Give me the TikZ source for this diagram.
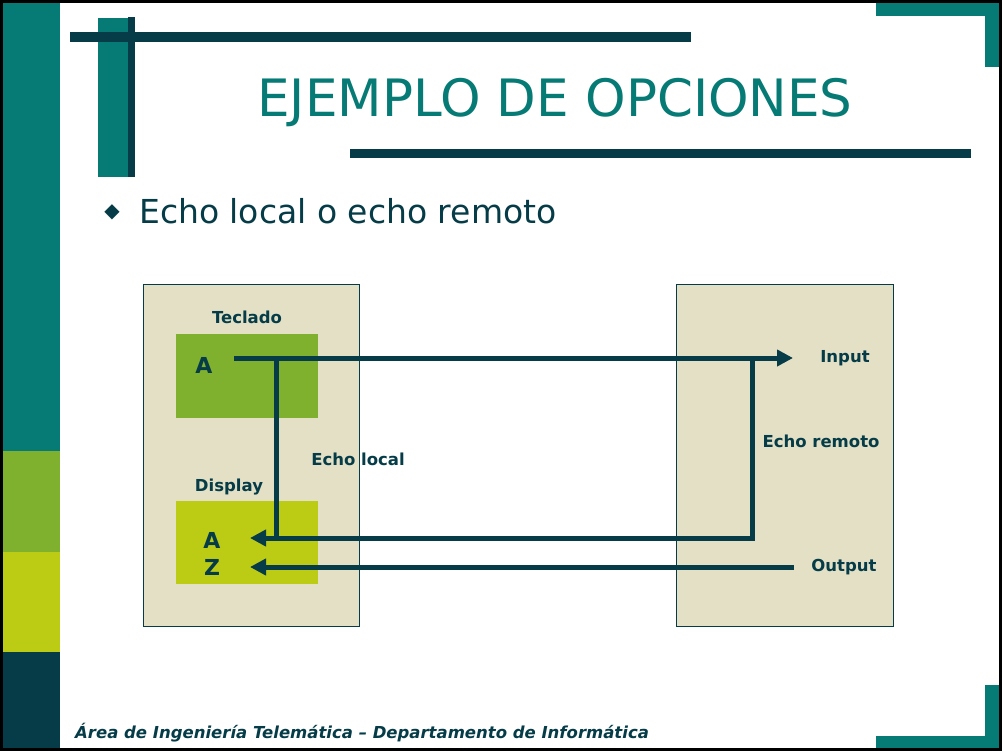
\documentclass[tikz,border=0pt]{standalone}
\usepackage{fontspec}
\setmainfont{DejaVu Sans}
\usetikzlibrary{arrows.meta}
\definecolor{teal1}{HTML}{067A74}
\definecolor{dark1}{HTML}{053C47}
\definecolor{green1}{HTML}{7FB12F}
\definecolor{yell1}{HTML}{BCCB14}
\definecolor{beige1}{HTML}{E3E0C6}
\tikzset{
  bigbox/.style={draw=dark1, line width=0.8pt, fill=beige1},
  keybox/.style={fill=green1},
  dispbox/.style={fill=yell1},
  lbl/.style={text=dark1, font=\bfseries\fontsize{16.5}{18}\selectfont, inner sep=0pt},
  letter/.style={text=dark1, font=\bfseries\fontsize{22}{24}\selectfont, inner sep=0pt},
  conn/.style={draw=dark1, line width=5pt},
  arr/.style={conn, -{Triangle[length=16pt,width=16pt]}},
}
\begin{document}
\begin{tikzpicture}[x=1pt,y=-1pt]
\useasboundingbox (0,0) rectangle (1003,751);
\fill[white] (0,0) rectangle (1003,751);
% left bar
\fill[teal1] (3,0) rectangle (60,451);
\fill[green1] (3,451) rectangle (60,552);
\fill[yell1] (3,552) rectangle (60,652);
\fill[dark1] (3,652) rectangle (60,749);
% top decoration
\fill[teal1] (98,18) rectangle (128,177);
\fill[dark1] (128,17) rectangle (135,177);
\fill[dark1] (70,32) rectangle (691,42);
\fill[dark1] (350,149) rectangle (971,158);
% corners
\fill[teal1] (876,3) rectangle (999,16);
\fill[teal1] (985,3) rectangle (999,67);
\fill[teal1] (985,685) rectangle (999,748);
\fill[teal1] (876,736) rectangle (999,748);
% frame
\draw[black, line width=3pt] (1.5,1.5) rectangle (1000.5,749.5);
% title
\node[text=teal1, font=\fontsize{51.5}{56}\selectfont, inner sep=0pt] (title) at (555,103) {EJEMPLO DE OPCIONES};
% bullet
\node[text=dark1, font=\fontsize{20}{22}\selectfont, inner sep=0pt] (bul) at (112,212) {\symbol{"25C6}};
\node[text=dark1, font=\fontsize{33}{36}\selectfont, inner sep=0pt, anchor=west] (sub) at (139,211) {Echo local o echo remoto};
% boxes
\node[bigbox, minimum width=216pt, minimum height=342pt, inner sep=0pt] (left) at (251,455) {};
\node[bigbox, minimum width=217pt, minimum height=342pt, inner sep=0pt] (right) at (784.5,455) {};
\node[keybox, minimum width=142pt, minimum height=84pt, inner sep=0pt] (tecl) at (247,376) {};
\node[dispbox, minimum width=142pt, minimum height=83pt, inner sep=0pt] (disp) at (247,542.5) {};
% labels
\node[lbl] (ltecl) at (247,317) {Teclado};
\node[lbl] (ldisp) at (229,487) {Display};
\node[letter] (ka) at (204,365) {A};
\node[letter] (da) at (212,540) {A};
\node[letter] (dz) at (212,567) {Z};
\node[lbl] (lloc) at (358,459) {Echo local};
\node[lbl] (linp) at (845,358) {Input};
\node[lbl] (lrem) at (821,441) {Echo remoto};
\node[lbl] (lout) at (844,567) {Output};
% connector points
\coordinate (s1) at (234,358);
\coordinate (j1) at (276,358);
\coordinate (j2) at (276,538);
\coordinate (r1) at (752,358);
\coordinate (r2) at (752,538);
\coordinate (e1) at (793,358);
\coordinate (t1) at (250,538);
\coordinate (o1) at (794,567);
\coordinate (t2) at (250,567);
% connectors
\draw[arr] (s1) -- (e1);
\draw[conn] (j1) -- (j2);
\draw[arr] (r1) -- (r2) -- (t1);
\draw[arr] (o1) -- (t2);
% footer
\node[text=dark1, font=\bfseries\itshape\fontsize{16.5}{18}\selectfont, inner sep=0pt, anchor=west] (foot) at (75,733) {Área de Ingeniería Telemática – Departamento de Informática};
\end{tikzpicture}
\end{document}
